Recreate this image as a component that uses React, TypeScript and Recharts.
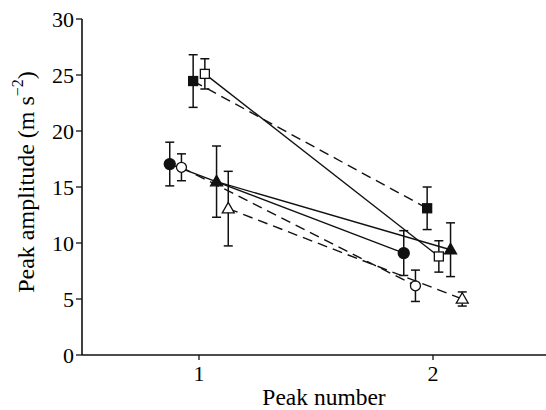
import * as React from 'react';
import { ScatterChart, Scatter, XAxis, YAxis, ErrorBar, Label } from 'recharts';

// peak number on the x axis, one value per peak for each series
const peaks = [1, 2];
const yTicks = [0, 5, 10, 15, 20, 25, 30];

const filledCircleMean = [17.05, 9.1];
const filledCircleErr = [1.95, 2.0];
const openCircleMean = [16.76, 6.18];
const openCircleErr = [1.2, 1.4];
const filledSquareMean = [24.46, 13.1];
const filledSquareErr = [2.35, 1.9];
const openSquareMean = [25.1, 8.8];
const openSquareErr = [1.35, 1.4];
const filledTriangleMean = [15.48, 9.4];
const filledTriangleErr = [3.18, 2.4];
const openTriangleMean = [13.07, 5.0];
const openTriangleErr = [3.33, 0.63];

const FONT = 'Liberation Serif, Times New Roman, DejaVu Serif, serif';
const INK = '#111';
const DASH = '10 6';

const Marker = (kind: string) => (props: any) => {
    const { cx, cy } = props;
    if (cx == null || cy == null) return <g />;
    const filled = kind.startsWith('filled');
    const fill = filled ? INK : '#fff';
    if (kind.endsWith('Circle')) {
        return <circle cx={cx} cy={cy} r={filled ? 5.5 : 5} fill={fill} stroke={INK} strokeWidth={1.3} />;
    }
    if (kind.endsWith('Square')) {
        const s = 9;
        return <rect x={cx - s / 2} y={cy - s / 2} width={s} height={s} fill={fill} stroke={INK} strokeWidth={1.3} />;
    }
    const h = 10.5;
    const w = 12;
    const pts = `${cx},${cy - h * 0.6} ${cx - w / 2},${cy + h * 0.4} ${cx + w / 2},${cy + h * 0.4}`;
    return <polygon points={pts} fill={fill} stroke={INK} strokeWidth={1.3} />;
};

// side by side dodge so the error bars don't overlap
const series = [
    { name: 'filledCircle', mean: filledCircleMean, err: filledCircleErr, shift: -0.125, dashed: false },
    { name: 'openCircle', mean: openCircleMean, err: openCircleErr, shift: -0.075, dashed: true },
    { name: 'filledSquare', mean: filledSquareMean, err: filledSquareErr, shift: -0.025, dashed: true },
    { name: 'openSquare', mean: openSquareMean, err: openSquareErr, shift: 0.025, dashed: false },
    { name: 'filledTriangle', mean: filledTriangleMean, err: filledTriangleErr, shift: 0.075, dashed: false },
    { name: 'openTriangle', mean: openTriangleMean, err: openTriangleErr, shift: 0.125, dashed: true },
];

const tickStyle = { fill: '#000', fontSize: 22, fontFamily: FONT, style: { fontFamily: FONT } };

const YTitle = (props: any) => {
    const vb = props.viewBox;
    const x = vb.x + 26;
    const y = vb.y + vb.height / 2 - 5;
    return (
        <text x={x} y={y} transform={`rotate(-90, ${x}, ${y})`} textAnchor="middle" dominantBaseline="central"
              style={{ fontFamily: FONT }} fontSize={24} fill="#000">
            <tspan>Peak amplitude (m s</tspan>
            <tspan dy={-9} fontSize={16}>−2</tspan>
            <tspan dy={9}>)</tspan>
        </text>
    );
};

const XTitle = (props: any) => {
    const vb = props.viewBox;
    return (
        <text x={vb.x + vb.width / 2 + 8} y={vb.y + 50} textAnchor="middle" style={{ fontFamily: FONT }} fontSize={23.5} fill="#000">
            Peak number
        </text>
    );
};

export default function App() {
    return (
        <div style={{ position: 'absolute', left: 0, top: 0, width: 546, height: 410, overflow: 'hidden', background: '#fff', fontFamily: FONT }}>
            <ScatterChart width={552} height={410} margin={{ top: 19, right: 2, bottom: 0, left: 0 }} style={{ fontFamily: FONT }}>
                <XAxis type="number" dataKey="x" domain={[0.5, 2.5]} ticks={peaks} allowDataOverflow
                       height={55} tickSize={5} tickMargin={5} tick={tickStyle}
                       axisLine={{ stroke: INK, strokeWidth: 1.6 }} tickLine={{ stroke: INK, strokeWidth: 1.3 }}>
                    <Label content={XTitle} />
                </XAxis>
                <YAxis type="number" dataKey="y" domain={[0, 30]} ticks={yTicks} interval={0}
                       width={82} tickSize={6} tickMargin={2} tick={tickStyle}
                       axisLine={{ stroke: INK, strokeWidth: 1.6 }} tickLine={{ stroke: INK, strokeWidth: 1.3 }}>
                    <Label content={YTitle} />
                </YAxis>
                {series.map(s => (
                    <Scatter key={s.name}
                             data={peaks.map((p, i) => ({ x: p + s.shift, y: s.mean[i], err: s.err[i] }))}
                             line={{ stroke: INK, strokeWidth: 1.4, strokeDasharray: s.dashed ? DASH : undefined }}
                             shape={Marker(s.name)}
                             isAnimationActive={false}>
                        <ErrorBar dataKey="err" direction="y" width={4.5} stroke={INK} strokeWidth={1.5} />
                    </Scatter>
                ))}
            </ScatterChart>
        </div>
    );
}
